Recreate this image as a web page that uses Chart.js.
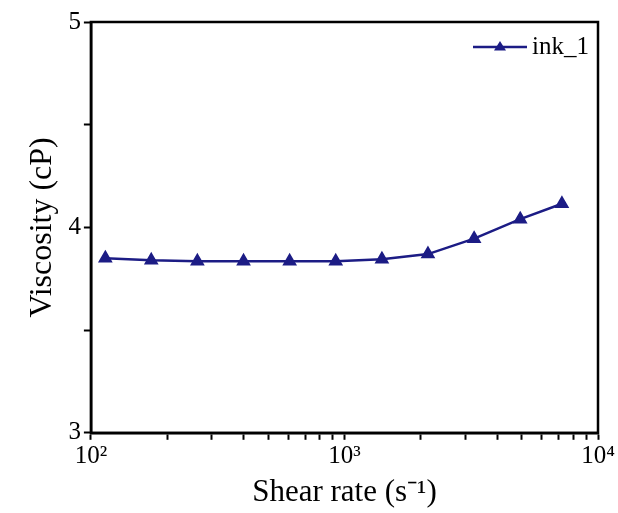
<!DOCTYPE html>
<html>
<head>
<meta charset="utf-8">
<script src="https://cdn.jsdelivr.net/npm/chart.js@4"></script>
<style>
  html, body { margin: 0; padding: 0; background: #fff; }
</style>
</head>
<body>
<canvas id="chart" width="618" height="513"></canvas>
<script>
'use strict';

// data
const shearRate = [114, 173, 263, 400, 608, 924, 1405, 2135, 3246, 4934, 7207];
const viscosity = [3.85, 3.84, 3.835, 3.835, 3.835, 3.835, 3.845, 3.87, 3.945, 4.04, 4.115];
const seriesName = 'ink_1';
const xTickLabels = { 100: '10²', 1000: '10³', 10000: '10⁴' };
const yTickLabels = [3, 4, 5];

const navy = '#1c1c85';
const serif = '"Liberation Serif", "Times New Roman", serif';

// box around the plot + legend inside top right
const framePlugin = {
  id: 'frame',
  afterDraw(chart) {
    const { ctx, chartArea: a } = chart;
    ctx.save();
    ctx.strokeStyle = '#000';
    ctx.lineWidth = 2.5;
    ctx.strokeRect(a.left, a.top, a.right - a.left, a.bottom - a.top);

    // legend
    const ds = chart.data.datasets[0];
    const lx = a.right - 125, ly = a.top + 25;
    ctx.strokeStyle = ds.borderColor;
    ctx.lineWidth = ds.borderWidth;
    ctx.beginPath();
    ctx.moveTo(lx, ly);
    ctx.lineTo(lx + 54, ly);
    ctx.stroke();
    ctx.fillStyle = ds.pointBackgroundColor;
    const r = ds.pointRadius, cx = lx + 27;
    ctx.beginPath();
    ctx.moveTo(cx, ly - r);
    ctx.lineTo(cx + r, ly + r * 0.6);
    ctx.lineTo(cx - r, ly + r * 0.6);
    ctx.closePath();
    ctx.fill();
    ctx.fillStyle = '#000';
    ctx.font = '25px ' + serif;
    ctx.textBaseline = 'middle';
    ctx.fillText(ds.label, lx + 59, ly);
    ctx.restore();
  }
};

function renderChart() {
  const points = shearRate.map((x, i) => ({ x: x, y: viscosity[i] }));

  const chartConfig = {
    type: 'line',
    data: {
      datasets: [{
        label: seriesName,
        data: points,
        borderColor: navy,
        borderWidth: 2.5,
        pointStyle: 'triangle',
        pointRadius: 6,
        pointBackgroundColor: navy,
        pointBorderColor: navy,
        tension: 0
      }]
    },
    options: {
      responsive: false,
      animation: false,
      layout: { padding: { top: 22, right: 20, left: 23, bottom: 0 } },
      plugins: {
        legend: { display: false },
        tooltip: { enabled: false }
      },
      scales: {
        x: {
          type: 'logarithmic',
          min: 100,
          max: 10000,
          afterBuildTicks(scale) {
            const t = [];
            for (let d = 100; d < 10000; d *= 10) {
              for (let m = 1; m < 10; m++) t.push({ value: d * m });
            }
            t.push({ value: 10000 });
            scale.ticks = t;
          },
          ticks: {
            autoSkip: false,
            maxRotation: 0,
            color: '#000',
            font: { family: serif, size: 25 },
            padding: 2,
            callback: (v) => xTickLabels[v] || ''
          },
          grid: {
            drawOnChartArea: false,
            tickLength: 7,
            tickWidth: 2,
            tickColor: '#000'
          },
          border: { color: '#000', width: 2.5 },
          title: {
            display: true,
            text: 'Shear rate (s⁻¹)',
            color: '#000',
            font: { family: serif, size: 31 },
            padding: { top: 0, bottom: 2 }
          }
        },
        y: {
          type: 'linear',
          min: 3,
          max: 5,
          ticks: {
            stepSize: 0.5,
            color: '#000',
            font: { family: serif, size: 25 },
            padding: 3,
            callback: (v) => yTickLabels.includes(v) ? String(v) : ''
          },
          grid: {
            drawOnChartArea: false,
            tickLength: 7,
            tickWidth: 2,
            tickColor: '#000'
          },
          border: { color: '#000', width: 2.5 },
          title: {
            display: true,
            text: 'Viscosity (cP)',
            color: '#000',
            font: { family: serif, size: 32 },
            padding: { top: 0, bottom: 4 }
          }
        }
      }
    },
    plugins: [framePlugin]
  };

  new Chart(document.getElementById('chart'), chartConfig);
}

renderChart();
</script>
</body>
</html>
